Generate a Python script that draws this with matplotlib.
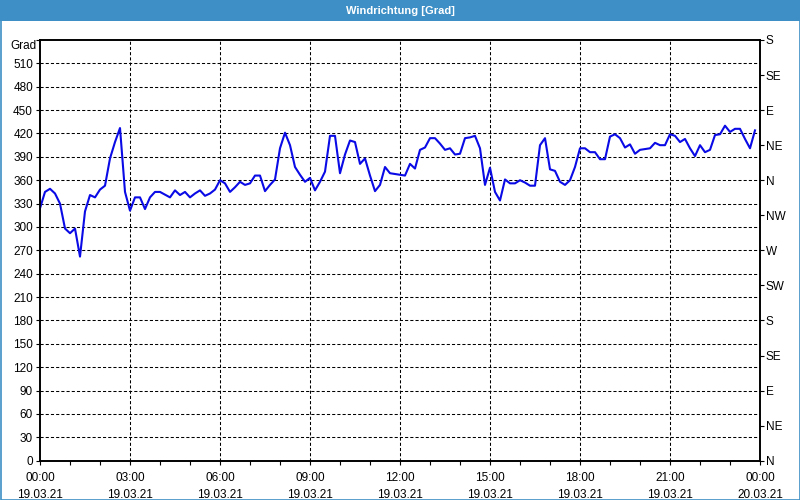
import matplotlib
matplotlib.use("Agg")
import matplotlib.pyplot as plt
from matplotlib.patches import Rectangle

plt.rcParams['font.family'] = ['Liberation Sans', 'DejaVu Sans']

# minutes since 19.03.21 00:00 and wind direction in degrees
minutes = [0, 10, 20, 30, 40, 50, 60, 70, 80, 90, 100, 110, 120, 130, 140, 150,
           160, 170, 180, 190, 200, 210, 220, 230, 240, 260, 270, 280, 290, 300,
           310, 320, 330, 340, 350, 360,
           370, 380, 390, 400, 410, 420, 430, 440, 450, 460, 470, 480, 490, 500,
           510, 520, 530, 540, 550, 560, 570, 580, 590, 600, 610, 620, 630, 640,
           650, 660, 670, 680, 690, 700, 720,
           730, 740, 750, 760, 770, 780, 790, 800, 810, 820, 830, 840, 850, 860,
           870, 880, 890, 900, 910, 920, 930, 940, 950, 960, 970, 980, 990, 1000,
           1010, 1020, 1030, 1040, 1050, 1060, 1070,
           1080, 1090, 1100, 1110, 1120, 1130, 1140, 1150, 1160, 1170, 1180, 1190,
           1200, 1220, 1230, 1240, 1250, 1260, 1270, 1280, 1290, 1300, 1310, 1320,
           1330, 1340, 1350, 1360, 1370, 1380, 1390, 1400, 1410, 1420, 1430]
degrees = [324, 345, 349, 343, 330, 298, 292, 298, 262, 320, 341, 338, 348, 353,
           388, 409, 427, 345, 321, 338, 338, 323, 338, 345, 345, 338, 347, 341,
           345, 338, 343, 347, 340, 343, 348, 360,
           356, 345, 351, 358, 354, 356, 366, 366, 346, 354, 361, 401, 421, 405,
           377, 367, 358, 363, 347, 358, 371, 417, 417, 369, 393, 411, 409, 381,
           388, 366, 346, 354, 377, 369, 367,
           366, 381, 375, 399, 402, 414, 414, 407, 399, 401, 393, 394, 414, 415,
           417, 401, 354, 376, 345, 334, 361, 356, 356, 360, 357, 353, 353, 405,
           414, 374, 372, 358, 354, 360, 377,
           401, 401, 396, 396, 387, 387, 416, 419, 414, 402, 406, 394,
           399, 401, 408, 405, 405, 419, 417, 409, 413, 401, 391, 405,
           396, 399, 418, 419, 430, 422, 426, 426, 413, 401, 424]

hour_ticks = [0, 3, 6, 9, 12, 15, 18, 21, 24]
hour_labels = ["00:00\n19.03.21", "03:00\n19.03.21", "06:00\n19.03.21",
               "09:00\n19.03.21", "12:00\n19.03.21", "15:00\n19.03.21",
               "18:00\n19.03.21", "21:00\n19.03.21", "00:00\n20.03.21"]
deg_ticks = list(range(0, 541, 30))
deg_labels = [str(d) for d in range(0, 511, 30)] + [""]
dir_ticks = list(range(0, 541, 45))
dir_labels = ["N", "NE", "E", "SE", "S", "SW", "W", "NW", "N", "NE", "E", "SE", "S"]

frame_blue = "#3d8fc6"

fig = plt.figure(figsize=(8, 5), dpi=100)
fig.patch.set_facecolor("white")

# title bar and window border
fig.patches.append(Rectangle((0, 1 - 21 / 500), 1, 21 / 500, transform=fig.transFigure,
                             facecolor=frame_blue, edgecolor="none", zorder=0))
fig.patches.append(Rectangle((0.5 / 800, 0.5 / 500), 1 - 1 / 800, 1 - 1 / 500,
                             transform=fig.transFigure, facecolor="none",
                             edgecolor=frame_blue, linewidth=1.2, zorder=0))
fig.text(0.5, 1 - 10.5 / 500, "Windrichtung [Grad]", color="white", fontsize=8,
         fontweight="bold", ha="center", va="center")

ax = fig.add_axes([40 / 800, 1 - 460.7 / 500, 720 / 800, 420.7 / 500])
hours = [m / 60 for m in minutes]
ax.plot(hours, degrees, color="#0a0ae6", linewidth=1.5, zorder=3)

ax.set_xlim(0, 24)
ax.set_ylim(0, 540)
ax.set_xticks(hour_ticks)
ax.set_xticklabels(hour_labels, fontsize=8.5, linespacing=1.6)
ax.set_xticks(range(0, 25), minor=True)
ax.set_yticks(deg_ticks)
ax.set_yticklabels(deg_labels, fontsize=8.5)
ax.tick_params(axis="x", which="both", direction="out", length=3, width=0.8, pad=5)
ax.tick_params(axis="y", direction="out", length=3, width=0.8, pad=2)
ax.text(-0.005, 532, "Grad", transform=ax.get_yaxis_transform(), fontsize=8.5,
        ha="right", va="center")

for v in deg_ticks[1:-1]:
    ax.axhline(v, color="black", linewidth=0.75, linestyle=(0, (3, 2)), zorder=1)
for h in hour_ticks[1:-1]:
    ax.axvline(h, color="black", linewidth=0.75, linestyle=(0, (3, 2)), zorder=1)

for s in ax.spines.values():
    s.set_linewidth(1.2)

ax2 = ax.twinx()
ax2.set_ylim(0, 540)
ax2.set_yticks(dir_ticks)
ax2.set_yticklabels(dir_labels, fontsize=8.5)
ax2.tick_params(axis="y", direction="out", length=3, width=0.8, pad=1)
for s in ax2.spines.values():
    s.set_linewidth(1.2)

fig.savefig("out.png", dpi=100)
